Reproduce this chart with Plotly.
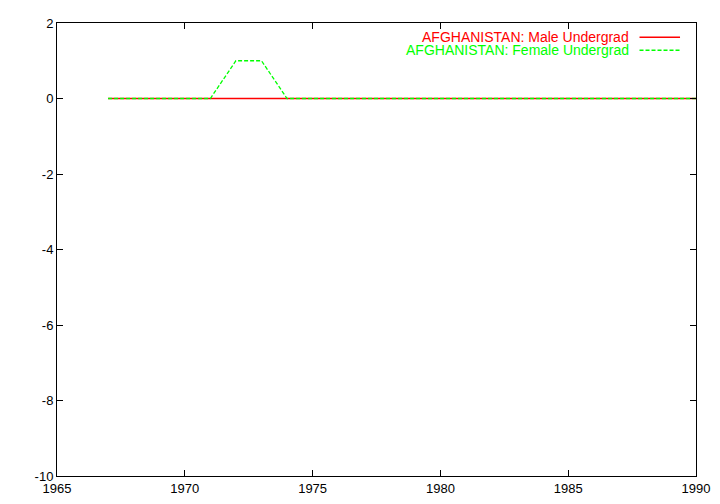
import plotly.graph_objects as go

years = list(range(1967, 1991))
male_undergrad = [0] * len(years)
female_undergrad = [0, 0, 0, 0, 0, 1, 1, 0, 0, 0, 0, 0, 0, 0, 0, 0, 0, 0, 0, 0, 0, 0, 0, 0]

series_names = ["AFGHANISTAN: Male Undergrad", "AFGHANISTAN: Female Undergrad"]
x_ticks = [1965, 1970, 1975, 1980, 1985, 1990]
y_ticks = [2, 0, -2, -4, -6, -8, -10]
y_tick_labels = ["2", "0", "-2", "-4", "-6", "-8", "-10"]

RED = "#ff0000"
GREEN = "#00ff00"
FAMILY = "Liberation Sans, Arial, sans-serif"
FONT = dict(family=FAMILY, size=13, color="black")

fig = go.Figure()
fig.add_trace(go.Scatter(x=years, y=male_undergrad, mode="lines",
                         line=dict(color=RED, width=1.3), name=series_names[0]))
fig.add_trace(go.Scatter(x=years, y=female_undergrad, mode="lines",
                         line=dict(color=GREEN, width=1.3, dash="4px,2px"), name=series_names[1]))

axis_common = dict(showgrid=False, zeroline=False, showline=True, linecolor="black",
                   linewidth=1, mirror="allticks", ticks="inside", ticklen=6,
                   tickcolor="black", tickfont=FONT, ticklabeloverflow="allow")
fig.update_xaxes(range=[1965, 1990], tickvals=x_ticks, **axis_common)
fig.update_yaxes(range=[-10, 2], tickvals=y_ticks, ticktext=y_tick_labels, **axis_common)

# gnuplot-style key: right-aligned text with line sample to its right
key_rows = [(0.9685, RED, "solid", series_names[0]), (0.9398, GREEN, "4px,2px", series_names[1])]
for ky, col, dash, label in key_rows:
    fig.add_annotation(x=0.8983, y=ky, xref="paper", yref="paper", text=label,
                       showarrow=False, xanchor="right", yanchor="middle",
                       font=dict(family=FAMILY, size=14, color=col))
    fig.add_shape(type="line", xref="paper", yref="paper", x0=0.9116, x1=0.975,
                  y0=ky, y1=ky, line=dict(color=col, width=1.3, dash=dash))

fig.update_layout(width=720, height=504, showlegend=False,
                  margin=dict(l=49, r=32, t=8, b=36),
                  plot_bgcolor="white", paper_bgcolor="white", font=FONT)

fig.write_html("out.html")
